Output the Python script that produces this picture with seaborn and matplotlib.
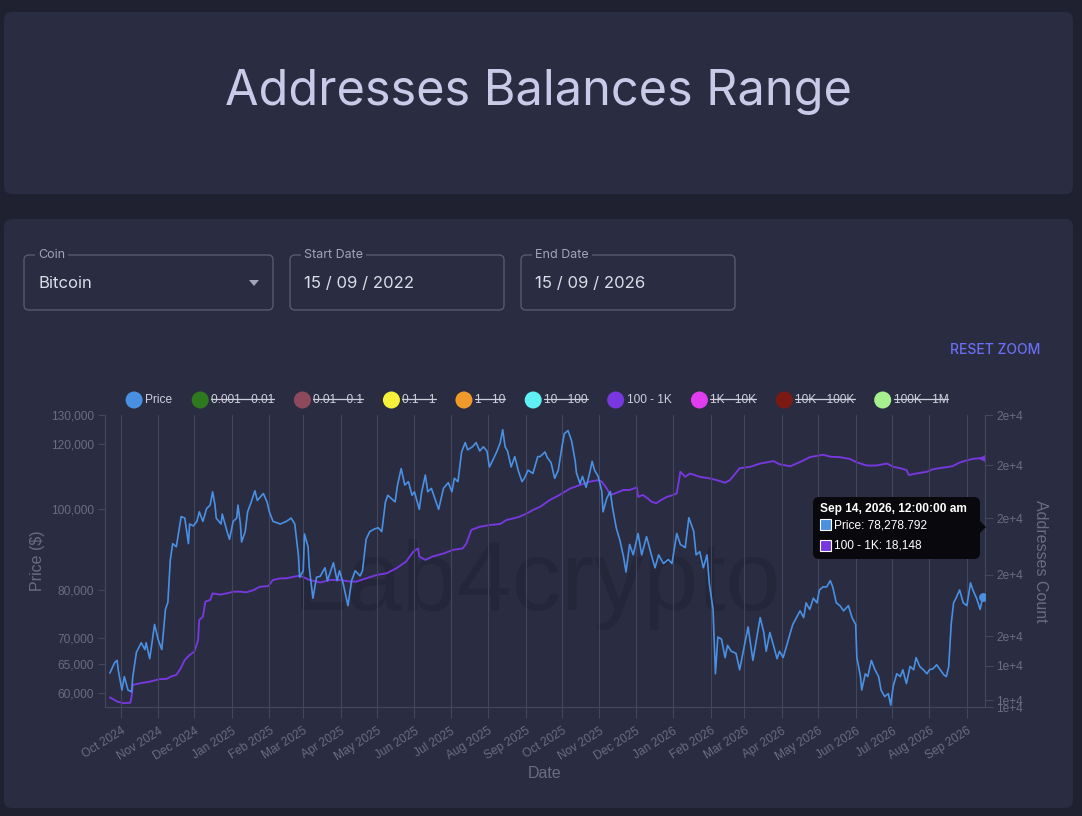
import numpy as np
import pandas as pd
import matplotlib
matplotlib.use("Agg")
import matplotlib.pyplot as plt
from matplotlib.patches import FancyBboxPatch, Circle, Rectangle, Polygon
from matplotlib.ticker import FixedLocator, FixedFormatter, NullLocator, FuncFormatter
import seaborn as sns

# ---------------- data ----------------
start_date = "2024-09-22"

price_days = [0, 4, 6, 7, 10, 12, 15, 18, 19, 22, 26, 29, 30, 33, 37, 40, 43, 46, 48, 50,
              52, 55, 59, 62, 65, 66, 69, 72, 74, 77, 80, 83, 85, 87, 88, 92, 93, 97, 99, 102,
              105, 106, 108, 109, 112, 114, 117, 120, 122, 127, 130, 132, 135, 141, 146, 150, 153, 156, 157, 160,
              161, 164, 165, 168, 171, 174, 178, 180, 185, 188, 190, 193, 197, 200, 203, 207, 209, 212, 215, 219,
              222, 225, 228, 230, 233, 236, 238, 241, 244, 247, 250, 252, 256, 258, 261, 263, 266, 269, 272, 276,
              280, 283, 285, 288, 291, 294, 296, 300, 303, 306, 309, 312, 314, 317, 320, 323, 325, 327, 329, 332,
              335, 338, 341, 343, 346, 350, 354, 356, 360, 362, 365, 368, 371, 374, 376, 379, 382, 385, 386, 389,
              391, 394, 397, 399, 401, 404, 407, 408, 411, 414, 416, 419, 422, 425, 427, 430, 433, 437, 440, 444,
              448, 451, 454, 458, 462, 465, 469, 472, 476, 479, 483, 485, 488, 491, 494, 496, 499, 501, 503, 506,
              509, 511, 514, 518, 521, 524, 528, 532, 535, 538, 541, 543, 546, 549, 552, 554, 557, 560, 563, 565,
              568, 571, 574, 576, 579, 582, 585, 587, 590, 593, 596, 598, 601, 604, 607, 611, 614, 617, 618, 621,
              622, 625, 627, 630, 633, 636, 638, 641, 644, 646, 648, 651, 654, 656, 659, 662, 665, 667, 670, 673,
              676, 678, 681, 684, 687, 690, 692, 694, 696, 698, 700, 703, 706, 709, 712, 714, 717, 720, 722]

price_values = [63430, 65300, 65700, 63900, 60500, 62800, 60500, 60200, 62800, 67200, 69000, 67700, 69000, 66000, 72600, 69600, 67700, 75700, 77200, 86800,
                90900, 90100, 98000, 97600, 90900, 96000, 95500, 96700, 99300, 96700, 100200, 101200, 105000, 101200, 97600, 96000, 98700, 94000, 92000, 96700,
                97600, 101200, 96000, 91300, 94000, 99300, 102100, 105300, 102500, 104500, 102100, 99300, 96700, 96000, 96700, 97600, 96000, 88000, 82800, 84300,
                93400, 90100, 85000, 78100, 82800, 83000, 85000, 82000, 86200, 82000, 84300, 81400, 76500, 82000, 84300, 83100, 84300, 92000, 94000, 94700,
                95000, 94000, 102100, 104000, 103000, 102100, 107000, 112000, 107000, 108000, 104000, 105000, 100000, 105000, 110000, 105000, 106000, 103000, 100000, 106000,
                107700, 105000, 109000, 108000, 117300, 120400, 118000, 119000, 120400, 117600, 119000, 117600, 112500, 114800, 117300, 120400, 124800, 119000, 117600, 112500,
                115800, 111200, 108000, 109100, 111500, 110500, 115800, 115800, 117300, 115400, 113900, 109000, 111500, 119000, 123400, 124500, 121000, 114300, 110700, 107400,
                109600, 106300, 110700, 114300, 111500, 109600, 105100, 99300, 103000, 105100, 100200, 94900, 91700, 87600, 84000, 90700, 88100, 93500, 88100, 92700,
                88100, 85000, 88100, 86000, 87000, 86000, 93500, 90700, 89900, 97700, 94100, 88100, 88900, 85000, 88100, 81200, 75800, 63300, 70100, 69700,
                66200, 68500, 67400, 67000, 64000, 67400, 72100, 65700, 69700, 74000, 71000, 67400, 71000, 68500, 66000, 67400, 66200, 68500, 71000, 72600,
                74000, 75400, 74000, 77100, 75700, 78100, 77100, 79900, 80600, 80600, 82000, 80600, 77100, 76500, 75400, 76500, 74000, 72600, 66200, 62800,
                60500, 63300, 62800, 65700, 64000, 62800, 60500, 59400, 59900, 58000, 61100, 63300, 62800, 64000, 61600, 64600, 64000, 66200, 64600, 64000,
                63300, 64000, 64200, 64900, 64000, 63100, 62800, 64600, 72600, 77100, 78100, 79900, 77100, 76500, 81500, 79900, 78100, 75700, 78278.792]

count_days = [0, 6, 11, 17, 18, 19, 25, 33, 41, 47, 51, 55, 58, 62, 66, 70, 73, 74, 77, 79,
              83, 85, 91, 97, 102, 108, 113, 119, 124, 131, 135, 141, 146, 152, 156, 160, 165, 171, 174, 182,
              190, 199, 204, 212, 221, 229, 237, 245, 251, 255, 256, 261, 267, 276, 284, 292, 295, 299, 306, 314,
              323, 328, 334, 339, 345, 350, 356, 364, 372, 381, 389, 397, 404, 407, 411, 414, 418, 425, 430, 436,
              437, 441, 445, 448, 452, 456, 461, 466, 469, 472, 476, 480, 488, 496, 502, 509, 513, 521, 530, 538,
              549, 554, 563, 568, 574, 579, 590, 596, 604, 612, 618, 626, 634, 643, 648, 654, 659, 661, 667, 676,
              681, 690, 697, 703, 709, 714, 722]

count_values = [10560, 10460, 10420, 10430, 10580, 10860, 10900, 10940, 11000, 11010, 11070, 11110, 11240, 11490, 11620, 11710, 12020, 12580, 12670, 13110,
                13160, 13360, 13320, 13360, 13410, 13410, 13390, 13460, 13560, 13580, 13770, 13820, 13820, 13870, 13900, 13860, 13770, 13720, 13690, 13770,
                13770, 13720, 13720, 13820, 13930, 13980, 14140, 14350, 14680, 14790, 14520, 14410, 14520, 14620, 14740, 14790, 14960, 15420, 15530, 15590,
                15630, 15770, 15830, 15890, 16010, 16130, 16250, 16500, 16690, 16940, 17070, 17200, 17260, 17200, 16940, 16690, 16750, 16880, 16880, 16980,
                16620, 16690, 16560, 16440, 16380, 16500, 16620, 16690, 16750, 17590, 17390, 17520, 17390, 17330, 17260, 17160, 17260, 17730, 17790, 17920,
                18020, 17890, 17810, 17920, 18050, 18180, 18280, 18200, 18180, 18110, 17970, 17840, 17840, 17920, 17790, 17730, 17660, 17460, 17520, 17590,
                17690, 17760, 17810, 17960, 18050, 18110, 18148]

price_ticks = [60000, 65000, 70000, 80000, 100000, 120000, 130000]
count_ticks = [10330, 10490, 11340, 12130, 13930, 15840, 17860, 20000]
count_tick_labels = ["1e+4", "1e+4", "1e+4", "2e+4", "2e+4", "2e+4", "2e+4", "2e+4"]

legend_labels = ["Price", "0.001 - 0.01", "0.01 - 0.1", "0.1 - 1", "1 - 10", "10 - 100",
                 "100 - 1K", "1K - 10K", "10K - 100K", "100K - 1M"]
legend_colors = ["#4a90e2", "#2f7a1f", "#8c4a5c", "#f6f23a", "#f09a2c", "#5ff0f4",
                 "#7838e0", "#e23cf0", "#7a1a12", "#a6f08e"]
legend_hidden = [False, True, True, True, True, True, False, True, True, True]

title_text = "Addresses Balances Range"
coin_value = "Bitcoin"
start_value = "15 / 09 / 2022"
end_value = "15 / 09 / 2026"

# ---------------- style ----------------
PAGE = "#1f2030"
CARD = "#2a2c41"
BORDER = "#565970"
GRID = "#44475c"
DIM = "#6a6c82"
BLUE = legend_colors[0]
PURPLE = legend_colors[6]
WATER = "#24263a"

sns.set_theme(style="dark")
plt.rcParams["font.family"] = ["Liberation Sans", "DejaVu Sans"]

W, H = 1082, 816
fig = plt.figure(figsize=(W / 100, H / 100), dpi=100)
fig.patch.set_facecolor(PAGE)

bg = fig.add_axes([0, 0, 1, 1], zorder=0)
bg.set_xlim(0, W); bg.set_ylim(H, 0); bg.axis("off")

# cards
bg.add_patch(FancyBboxPatch((4, 12), 1069, 182, boxstyle="round,pad=0,rounding_size=8",
                            fc=CARD, ec="none"))
bg.add_patch(FancyBboxPatch((4, 219), 1069, 589, boxstyle="round,pad=0,rounding_size=8",
                            fc=CARD, ec="none"))
bg.text(538, 92, title_text, ha="center", va="center", fontsize=35, color="#c8cae8",
        family=["Inter", "DejaVu Sans"])

# inputs
def input_box(x, w, label, value, arrow=False):
    bg.add_patch(FancyBboxPatch((x, 255), w, 55, boxstyle="round,pad=0,rounding_size=5",
                                fc="none", ec=BORDER, lw=1.0))
    bg.text(x + 14, 255, label, ha="left", va="center", fontsize=9, color="#a2a4b8",
            family=["Inter", "DejaVu Sans"],
            bbox=dict(boxstyle="square,pad=0.25", fc=CARD, ec="none"))
    bg.text(x + 14, 283, value, ha="left", va="center", fontsize=12, color="#dcdde9",
            family=["Inter", "DejaVu Sans"])
    if arrow:
        bg.add_patch(Polygon([(x + w - 24, 280), (x + w - 14, 280), (x + w - 19, 286)],
                             closed=True, fc="#a2a4b8", ec="none"))

input_box(24, 249, "Coin", coin_value, arrow=True)
input_box(290, 214, "Start Date", start_value)
input_box(521, 214, "End Date", end_value)

bg.text(1040, 350, "RESET ZOOM", ha="right", va="center", fontsize=10, color="#6a6ef2",
        family=["Inter", "DejaVu Sans"], fontweight="medium")

# watermark
bg.text(537, 585, "Lab4crypto", ha="center", va="center", fontsize=71, color=WATER)

# ---------------- chart ----------------
t0 = pd.Timestamp(start_date)
df_price = pd.DataFrame({"date": t0 + pd.to_timedelta(price_days, unit="D"), "price": price_values})
df_count = pd.DataFrame({"date": t0 + pd.to_timedelta(count_days, unit="D"), "count": count_values})

ax = fig.add_axes([105 / W, 1 - 707 / H, 880 / W, 292 / H])
ax2 = ax.twinx()
ax.set_zorder(3); ax2.set_zorder(2)
ax.patch.set_alpha(0); ax2.patch.set_alpha(0)

sns.lineplot(data=df_count, x="date", y="count", ax=ax2, color=PURPLE, linewidth=1.35,
             estimator=None, legend=False)
sns.lineplot(data=df_price, x="date", y="price", ax=ax, color=BLUE, linewidth=1.2,
             estimator=None, legend=False)
sns.scatterplot(x=df_price["date"].iloc[-1:], y=df_price["price"].iloc[-1:], ax=ax, color=BLUE,
                s=34, edgecolor=BLUE, zorder=5, legend=False)
sns.scatterplot(x=df_count["date"].iloc[-1:], y=df_count["count"].iloc[-1:], ax=ax2, color=PURPLE,
                s=40, marker="<", edgecolor=PURPLE, zorder=5, legend=False)

ax.set_xlim(t0 - pd.Timedelta(days=4), t0 + pd.Timedelta(days=724))

ax.set_yscale("log")
ax.set_ylim(57710, 130000)
ax.yaxis.set_major_locator(FixedLocator(price_ticks))
ax.yaxis.set_minor_locator(NullLocator())
ax.yaxis.set_major_formatter(FuncFormatter(lambda v, p: f"{v:,.0f}"))

ax2.set_yscale("log")
ax2.set_ylim(10330, 20000)
ax2.yaxis.set_major_locator(FixedLocator(count_ticks))
ax2.yaxis.set_major_formatter(FixedFormatter(count_tick_labels))
ax2.yaxis.set_minor_locator(NullLocator())

months = pd.date_range("2024-10-01", "2026-09-01", freq="MS")
ax.set_xticks(months)
ax.set_xticklabels([m.strftime("%b %Y") for m in months], rotation=32, ha="right",
                   rotation_mode="anchor")
ax.xaxis.set_minor_locator(NullLocator())

ax.grid(axis="x", color=GRID, linewidth=0.8)
ax.grid(axis="y", visible=False)
ax2.grid(False)

ax.tick_params(axis="x", colors=GRID, labelcolor=DIM, labelsize=8.6, length=8, width=0.8,
               pad=5, direction="out", bottom=True)
ax.tick_params(axis="y", colors=GRID, labelcolor=DIM, labelsize=8.6, length=5, width=0.8,
               pad=3, left=True)
ax2.tick_params(axis="y", colors=GRID, labelcolor=DIM, labelsize=8.6, length=6, width=0.8,
                pad=2, right=True)

for a in (ax, ax2):
    for s in a.spines.values():
        s.set_color(GRID); s.set_linewidth(0.8)
    a.spines["top"].set_visible(False)

ax.set_xlabel("Date", fontsize=11.5, color=DIM)
ax.xaxis.set_label_coords(0.5, (707 - 766) / 292)
ax.set_ylabel("Price ($)", fontsize=11.5, color=DIM, va="center")
ax.yaxis.set_label_coords((38 - 105) / 880, 0.5)
ax2.set_ylabel("Addresses Count", fontsize=11.5, color=DIM, rotation=270, va="center")
ax2.yaxis.set_label_coords((1040 - 105) / 880, 0.5)

# ---------------- overlay: legend + tooltip ----------------
ov = fig.add_axes([0, 0, 1, 1], zorder=10)
ov.set_xlim(0, W); ov.set_ylim(H, 0); ov.axis("off"); ov.patch.set_alpha(0)

leg_texts = [ov.text(0, 400, lab, ha="left", va="center", fontsize=8.6, color="#cfd0de")
             for lab in legend_labels]
fig.canvas.draw()
renderer = fig.canvas.get_renderer()
widths = [t.get_window_extent(renderer).width for t in leg_texts]
R, GAP_T, GAP_I = 8.5, 11, 19.5
total = sum(2 * R + (GAP_T - R) + w for w in widths) + GAP_I * (len(widths) - 1)
x = 537 - total / 2
for t, w, col, hid in zip(leg_texts, widths, legend_colors, legend_hidden):
    cx = x + R
    ov.add_patch(Circle((cx, 400), R, fc=col, ec="none"))
    t.set_x(cx + GAP_T)
    if hid:
        ov.plot([cx + GAP_T, cx + GAP_T + w], [398.6, 398.6], color="#cfd0de", lw=0.9)
    x = cx + GAP_T + w + GAP_I

# tooltip
last_d = df_price["date"].iloc[-1]
ov.add_patch(FancyBboxPatch((813, 497), 167, 62, boxstyle="round,pad=0,rounding_size=6",
                            fc="#09090d", ec="none"))
ov.add_patch(Polygon([(980, 521), (986, 527), (980, 533)], closed=True, fc="#09090d", ec="none"))
ov.text(820, 509, f"{last_d:%b} {last_d.day}, {last_d:%Y}, 12:00:00 am", ha="left", va="center",
        fontsize=8.6, color="white", fontweight="bold")
rows = [(BLUE, f"Price: {price_values[-1]:,.3f}"), (PURPLE, f"100 - 1K: {count_values[-1]:,.0f}")]
for i, (col, txt) in enumerate(rows):
    yy = 525 + i * 21
    ov.add_patch(Rectangle((820, yy - 6), 11, 11, fc=col, ec="white", lw=0.8))
    ov.text(834, yy, txt, ha="left", va="center", fontsize=8.6, color="white")

fig.savefig("out.png", dpi=100, facecolor=PAGE)
